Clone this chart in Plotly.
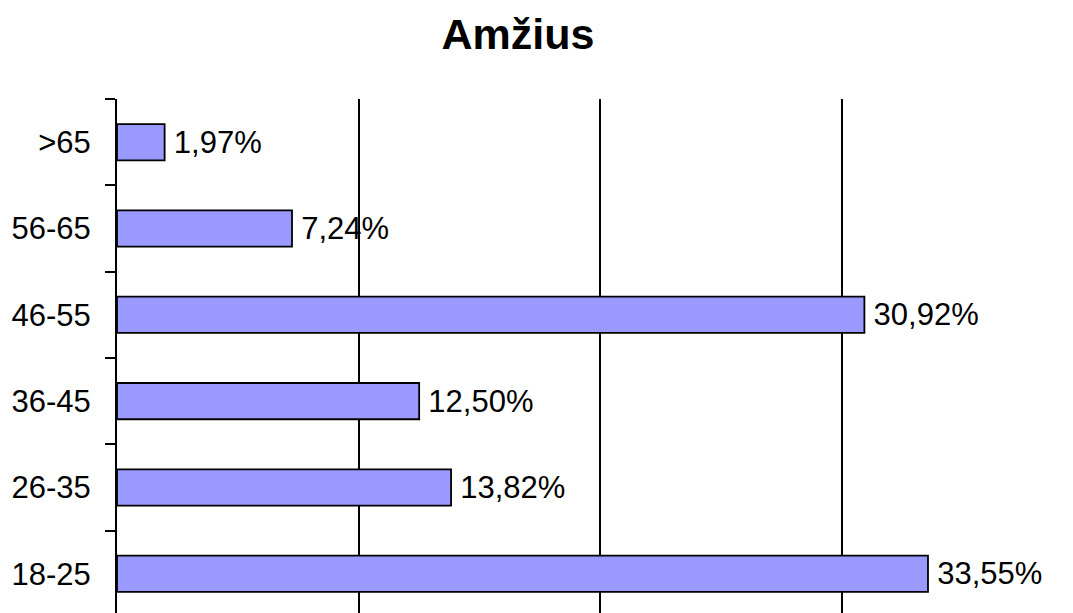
import plotly.graph_objects as go

categories = ["18-25", "26-35", "36-45", "46-55", "56-65", ">65"]
values = [33.55, 13.82, 12.50, 30.92, 7.24, 1.97]
labels = ["33,55%", "13,82%", "12,50%", "30,92%", "7,24%", "1,97%"]
grid_ticks = [0, 10, 20, 30]

FONT = "Arial, Liberation Sans, sans-serif"

fig = go.Figure(
    go.Bar(
        y=categories,
        x=values,
        orientation="h",
        text=labels,
        texttemplate="\u2009%{text}",
        textposition="outside",
        constraintext="none",
        cliponaxis=False,
        textfont=dict(family=FONT, size=31, color="black"),
        marker=dict(color="#9999FF", line=dict(color="black", width=1.8)),
        width=0.42,
    )
)

fig.update_layout(
    width=1073,
    height=613,
    margin=dict(l=109, r=0, t=90.5, b=0),
    paper_bgcolor="white",
    plot_bgcolor="white",
    showlegend=False,
    title=dict(
        text="Amžius",
        font=dict(family=FONT, size=43, color="black", weight="bold"),
        xref="container",
        yref="container",
        x=510 / 1073,
        y=1 - 26 / 613,
        xanchor="center",
        yanchor="middle",
    ),
)

fig.update_xaxes(
    range=[0, 39.88],
    tickvals=grid_ticks,
    showgrid=True,
    gridcolor="black",
    gridwidth=2,
    showticklabels=False,
    zeroline=False,
    showline=False,
    ticks="",
)

fig.update_yaxes(
    range=[-0.547, 5.5],
    showline=True,
    linecolor="black",
    linewidth=2,
    ticks="outside",
    tickson="boundaries",
    ticklen=10,
    tickwidth=2,
    tickcolor="black",
    ticklabelstandoff=18,
    tickfont=dict(family=FONT, size=31, color="black"),
    showgrid=False,
)

fig.write_html("out.html")
